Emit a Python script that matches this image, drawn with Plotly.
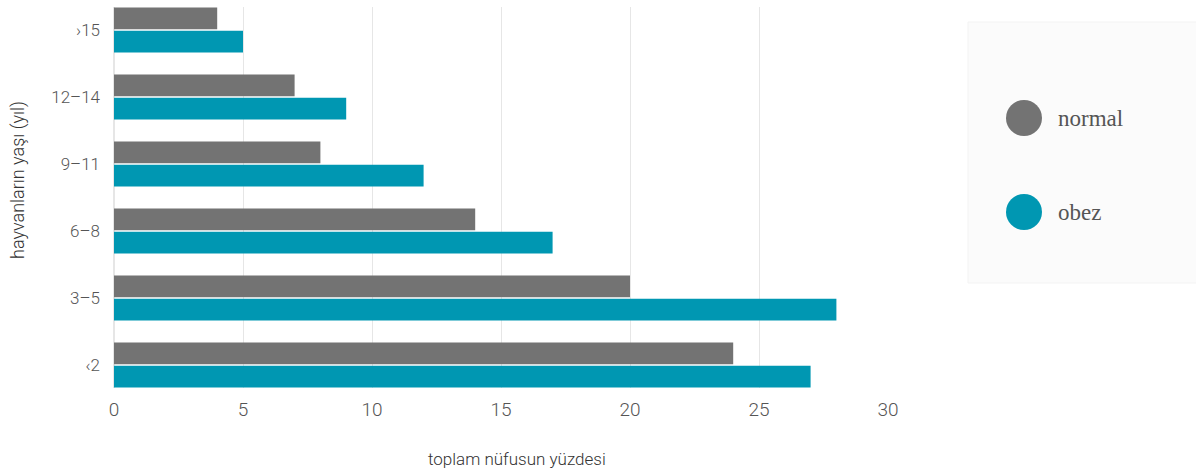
import plotly.graph_objects as go

categories = ["‹2", "3–5", "6–8", "9–11", "12–14", "›15"]
normal_values = [24, 20, 14, 8, 7, 4]
obez_values = [27, 28, 17, 12, 9, 5]
series_names = ["normal", "obez"]
x_ticks = [0, 5, 10, 15, 20, 25, 30]
x_title = "toplam nüfusun yüzdesi"
y_title = "hayvanların yaşı (yıl)"

GRAY = "#737373"
TEAL = "#0097B2"
TXT = "#555555"
TICKFONT = "Roboto, Liberation Sans, sans-serif"
SERIF = "Liberation Serif, DejaVu Serif, serif"

fig = go.Figure()
fig.add_trace(go.Bar(y=categories, x=obez_values, name=series_names[1], orientation="h",
                     marker=dict(color=TEAL, line=dict(width=0)), showlegend=False))
fig.add_trace(go.Bar(y=categories, x=normal_values, name=series_names[0], orientation="h",
                     marker=dict(color=GRAY, line=dict(width=0)), showlegend=False))

fig.update_layout(
    width=1196, height=474,
    margin=dict(l=114, r=308, t=7, b=86),
    paper_bgcolor="white", plot_bgcolor="white",
    barmode="group", bargap=0.31, bargroupgap=0.06,
    xaxis=dict(range=[0, 30], tickvals=x_ticks, showgrid=True, gridcolor="#e6e6e6", gridwidth=1,
               zeroline=True, zerolinecolor="#e6e6e6", showline=False,
               tickfont=dict(family=TICKFONT, size=19, color=TXT, weight=300), ticks="", ticklabelstandoff=8),
    yaxis=dict(categoryorder="array", categoryarray=categories, range=[-0.343, 5.343],
               showgrid=False, zeroline=False, showline=False,
               tickfont=dict(family=TICKFONT, size=17, color=TXT, weight=300), ticks="", ticklabelstandoff=13),
    font=dict(family=TICKFONT, color=TXT),
)

# legend panel
fig.add_shape(type="rect", xref="paper", yref="paper",
              x0=(968 - 114) / 774, x1=(1210 - 114) / 774,
              y0=(388 - 283) / 381, y1=(388 - 22) / 381,
              fillcolor="#fbfbfb", line=dict(color="#f3f3f3", width=1), layer="below")

legend_items = [(series_names[0], GRAY, 118), (series_names[1], TEAL, 212)]
for name, col, py in legend_items:
    fig.add_shape(type="circle", xref="paper", yref="paper",
                  xsizemode="pixel", ysizemode="pixel",
                  xanchor=(1024 - 114) / 774, yanchor=(388 - py) / 381,
                  x0=-18, x1=18, y0=-18, y1=18,
                  fillcolor=col, line=dict(width=0))
    fig.add_annotation(xref="paper", yref="paper", x=(1056 - 114) / 774, y=(388 - py) / 381,
                       text=name, showarrow=False, xanchor="left", yanchor="middle",
                       font=dict(family=SERIF, size=23, color=TXT))

fig.add_annotation(xref="paper", yref="paper", x=(517 - 114) / 774, y=(388 - 459) / 381,
                   text=x_title, showarrow=False, xanchor="center", yanchor="middle",
                   font=dict(family=TICKFONT, size=17, color="#333333", weight=300))
fig.add_annotation(xref="paper", yref="paper", x=(18 - 114) / 774, y=(388 - 180) / 381,
                   text=y_title, showarrow=False, textangle=-90, xanchor="center", yanchor="middle",
                   font=dict(family=TICKFONT, size=18, color="#333333", weight=300))

fig.write_html("out.html")
